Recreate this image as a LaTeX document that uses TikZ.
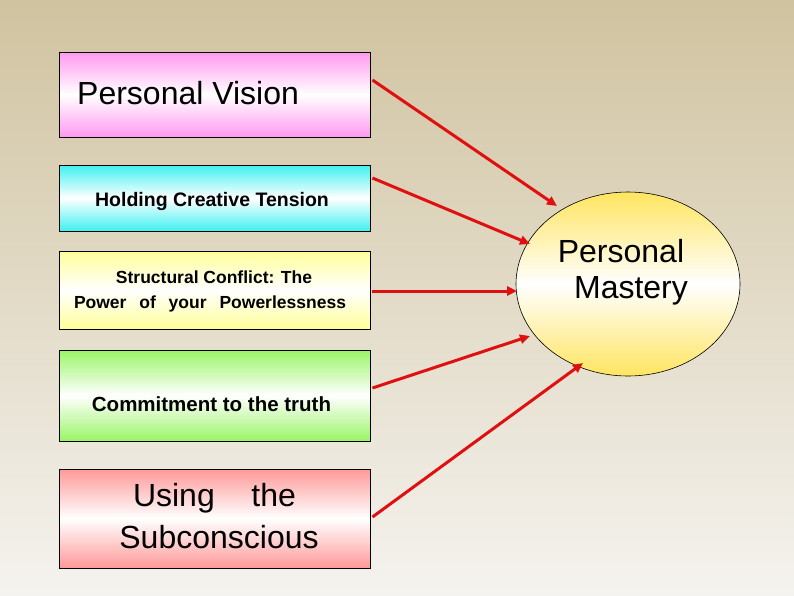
\documentclass[tikz,border=0pt]{standalone}
\usepackage{fontspec}
\setmainfont{Liberation Sans}
\usetikzlibrary{arrows.meta,shapes.geometric}
\definecolor{bgtop}{HTML}{D0C3A0}
\definecolor{bgbot}{HTML}{F5F3EF}
\definecolor{cpink}{HTML}{FF99F0}
\definecolor{ccyan}{HTML}{40F0F0}
\definecolor{cyell}{HTML}{FFFF99}
\definecolor{cgreen}{HTML}{99F566}
\definecolor{cred}{HTML}{FF9999}
\definecolor{cell}{HTML}{FFE560}
\definecolor{arr}{HTML}{E01010}
\tikzset{
  box/.style={draw=black, line width=0.9pt, rectangle, minimum width=311pt, inner sep=0pt, shading=axis, middle color=white},
  txt/.style={inner sep=0pt, anchor=base, text=black},
  link/.style={draw=arr, line width=3pt, -{Triangle[length=10pt,width=9pt]}},
}
\begin{document}
\begin{tikzpicture}[x=1pt,y=-1pt]
\useasboundingbox (0,0) rectangle (794,595);
\shade[top color=bgtop, bottom color=bgbot] (0,0) rectangle (794,595);

\node[box, minimum height=85pt, top color=cpink, bottom color=cpink, middle color=white] (b1) at (214.5,94.5) {};
\node[box, minimum height=66pt, top color=ccyan, bottom color=ccyan, middle color=white] (b2) at (214.5,198) {};
\node[box, minimum height=78pt, top color=cyell, bottom color=cyell, middle color=white] (b3) at (214.5,290) {};
\node[box, minimum height=91pt, top color=cgreen, bottom color=cgreen, middle color=white] (b4) at (214.5,395.5) {};
\node[box, minimum height=99pt, top color=cred, bottom color=cred, middle color=white] (b5) at (214.5,518.5) {};

\node[ellipse, draw=black, line width=0.6pt, minimum width=224pt, minimum height=184pt, inner sep=0pt,
      shading=axis, top color=cell, bottom color=cell, middle color=white] (pm) at (628,284) {};

\node[txt, anchor=base west] (t1) at (77,104) {\fontsize{32}{38}\selectfont Personal Vision};
\node[txt] (t2) at (212,206) {\fontsize{19.5}{24}\selectfont\bfseries Holding Creative Tension};
\node[txt] (t3a) at (214,283) {\fontsize{17.5}{22}\selectfont\bfseries Structural Conflict: The};
\node[txt] (t3b) at (210,308) {\fontsize{17.5}{22}\selectfont\bfseries\makebox[272pt][s]{Power of your Powerlessness}};
\node[txt] (t4) at (211.5,411) {\fontsize{20.5}{25}\selectfont\bfseries Commitment to the truth};
\node[txt] (t5a) at (214.5,506) {\fontsize{32}{38}\selectfont\makebox[163pt][s]{Using the}};
\node[txt] (t5b) at (219,548) {\fontsize{32}{38}\selectfont Subconscious};
\node[txt] (pma) at (621,262) {\fontsize{32}{38}\selectfont Personal};
\node[txt] (pmb) at (631,298) {\fontsize{32}{38}\selectfont Mastery};

\coordinate (e1) at (557,206);
\coordinate (e2) at (530,244);
\coordinate (e3) at (517,291);
\coordinate (e4) at (530,336);
\coordinate (e5) at (583,363);

\draw[link] ([shift={(2pt,14.5pt)}]b1.east) -- (e1);
\draw[link] ([shift={(2pt,20pt)}]b2.east) -- (e2);
\draw[link] ([shift={(2pt,-1pt)}]b3.east) -- (e3);
\draw[link] ([shift={(2pt,7.5pt)}]b4.east) -- (e4);
\draw[link] ([shift={(2pt,1.5pt)}]b5.east) -- (e5);
\end{tikzpicture}
\end{document}
